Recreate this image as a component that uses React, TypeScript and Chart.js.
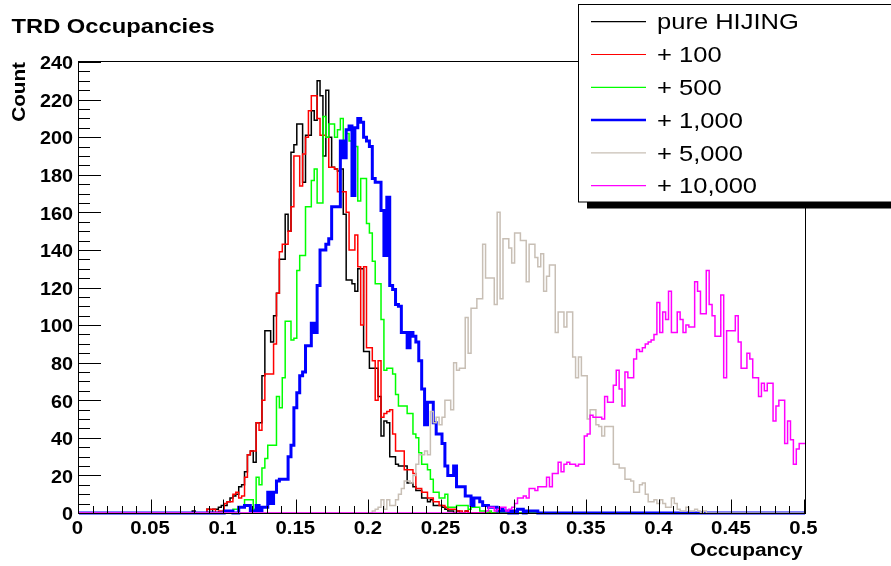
import React, { useEffect, useRef } from 'react';
import { Chart, registerables } from 'chart.js';

Chart.register(...registerables);

// ---------- axis / binning ----------
const N_BINS = 250;
const BIN_WIDTH = 0.002;
const X_MIN = 0;
const X_MAX = 0.5;
const Y_MIN = 0;
const Y_MAX = 240;
const X_TICK_VALUES = [0, 0.05, 0.1, 0.15, 0.2, 0.25, 0.3, 0.35, 0.4, 0.45, 0.5];
const X_TICK_LABELS = ['0', '0.05', '0.1', '0.15', '0.2', '0.25', '0.3', '0.35', '0.4', '0.45', '0.5'];
const Y_TICK_VALUES = [0, 20, 40, 60, 80, 100, 120, 140, 160, 180, 200, 220, 240];
const Y_TICK_LABELS = ['0', '20', '40', '60', '80', '100', '120', '140', '160', '180', '200', '220', '240'];

const TITLE = 'TRD Occupancies';
const X_TITLE = 'Occupancy';
const Y_TITLE = 'Count';

const SERIES_NAMES = ['pure HIJING', '+ 100', '+ 500', '+ 1,000', '+ 5,000', '+ 10,000'];
const SERIES_COLORS = ['#000000', '#ff0000', '#00ff00', '#0000ff', '#c8bfb5', '#ff00ff'];
const SERIES_WIDTHS = [1.5, 1.5, 1.5, 3, 1.5, 1.5];

// ---------- histogram counts (first non-empty bin + counts per 0.002 bin) ----------
const hijingStart = 39;
const hijingCounts = [
  1, 0, 0, 0, 0, 2, 0, 2, 2, 3, 4, 4, 6, 8, 9, 10, 14, 15, 22, 31,
  33, 27, 48, 48, 73, 97, 97, 91, 105, 117, 135, 135, 159, 150, 192, 196, 207, 207, 176, 201,
  201, 214, 209, 230, 222, 190, 225, 200, 184, 183, 182, 183, 159, 124, 124, 122, 118, 130, 130, 86,
  86, 77, 77, 77, 62, 41, 49, 48, 30, 30, 26, 25, 25, 25, 16, 16, 14, 12, 12, 8,
  8, 6, 7, 4, 4, 4, 3, 2, 1, 1, 0, 1, 0, 0, 1,
];

const plus100Start = 44;
const plus100Counts = [
  2, 2, 2, 0, 1, 1, 5, 6, 6, 10, 11, 8, 9, 19, 31, 33, 33, 48, 44, 60,
  74, 74, 74, 90, 117, 139, 143, 143, 150, 163, 190, 190, 174, 191, 200, 214, 222, 222, 210, 201,
  201, 200, 184, 184, 183, 171, 171, 171, 160, 140, 140, 148, 131, 100, 131, 88, 88, 81, 60, 81,
  51, 53, 54, 55, 42, 33, 33, 33, 23, 23, 23, 21, 13, 13, 11, 11, 8, 8, 6, 6,
  4, 4, 3, 2, 2, 2, 1, 1, 0, 1,
];

const plus500Start = 52;
const plus500Counts = [
  1, 2, 2, 3, 3, 7, 7, 7, 2, 19, 15, 24, 29, 36, 36, 36, 62, 56, 72, 102,
  102, 92, 93, 129, 137, 137, 163, 163, 177, 183, 165, 165, 211, 200, 207, 207, 200, 204, 210, 198,
  202, 198, 195, 195, 166, 178, 178, 154, 149, 134, 122, 122, 103, 76, 77, 77, 74, 63, 57, 57,
  57, 53, 53, 42, 40, 32, 26, 26, 23, 18, 11, 11, 8, 8, 10, 3, 3, 3, 4, 4,
  4, 4, 2, 3, 3, 3, 1, 1, 0, 1,
];

const plus1000Start = 50;
const plus1000Counts = [
  1, 1, 1, 0, 0, 3, 3, 4, 4, 1, 1, 4, 1, 3, 3, 11, 5, 11, 17, 18,
  18, 18, 30, 36, 56, 64, 73, 75, 89, 89, 101, 96, 121, 140, 140, 143, 146, 163, 163, 163,
  198, 189, 204, 206, 169, 205, 210, 208, 200, 198, 195, 178, 176, 176, 161, 137, 168, 121, 119, 111,
  110, 96, 96, 88, 96, 94, 91, 81, 66, 47, 59, 59, 48, 42, 42, 37, 25, 20, 20, 25,
  14, 14, 14, 9, 9, 4, 8, 8, 6, 4, 4, 3, 3, 3, 1, 2, 1, 1, 0, 1,
  0, 2, 2, 0, 1, 1, 1, 1,
];

const plus5000Start = 100;
const plus5000Counts = [
  0, 1, 2, 3, 7, 2, 7, 4, 4, 7, 10, 13, 17, 17, 16, 20, 26, 31, 31, 33,
  31, 54, 48, 51, 47, 51, 60, 60, 55, 80, 76, 77, 77, 104, 85, 109, 109, 114, 114, 143,
  125, 125, 125, 111, 160, 114, 146, 146, 141, 133, 149, 149, 145, 145, 123, 143, 143, 136, 131, 138,
  118, 126, 132, 132, 96, 107, 107, 99, 107, 107, 83, 72, 83, 73, 73, 50, 55, 55, 47, 46,
  41, 46, 46, 46, 26, 26, 24, 24, 18, 18, 17, 11, 11, 15, 16, 10, 6, 6, 7, 5,
  7, 5, 3, 3, 8, 5, 2, 1, 1, 3, 1, 1, 2, 1, 0, 1,
];

const plus10000Start = 140;
const plus10000Counts = [
  1, 3, 3, 1, 2, 3, 3, 1, 2, 3, 5, 8, 8, 9, 8, 13, 13, 12, 14, 14,
  14, 19, 14, 21, 21, 27, 22, 26, 27, 26, 26, 25, 26, 26, 41, 42, 52, 51, 51, 51,
  50, 62, 59, 59, 68, 76, 66, 57, 75, 72, 72, 82, 87, 86, 88, 90, 91, 92, 95, 112,
  96, 107, 103, 118, 96, 96, 107, 103, 96, 100, 99, 99, 123, 118, 106, 106, 129, 111, 105, 94,
  94, 116, 72, 97, 97, 97, 105, 91, 77, 77, 85, 82, 72, 72, 62, 69, 65, 69, 69, 49,
  57, 60, 60, 37, 49, 39, 26, 34, 37, 37,
];

const SERIES_STARTS = [hijingStart, plus100Start, plus500Start, plus1000Start, plus5000Start, plus10000Start];
const SERIES_COUNTS = [hijingCounts, plus100Counts, plus500Counts, plus1000Counts, plus5000Counts, plus10000Counts];

function fullHistogram(start: number, counts: number[]): number[] {
  const out = new Array(N_BINS).fill(0);
  counts.forEach((c, i) => {
    if (start + i < N_BINS) out[start + i] = c;
  });
  return out;
}

function stepPoints(bins: number[]) {
  const pts = bins.map((v, i) => ({ x: i * BIN_WIDTH, y: v }));
  pts.push({ x: N_BINS * BIN_WIDTH, y: bins[N_BINS - 1] });
  return pts;
}

const FAMILY = '"Liberation Sans", Arial, Helvetica, sans-serif';

function drawText(
  ctx: CanvasRenderingContext2D,
  text: string,
  x: number,
  y: number,
  font: string,
  align: CanvasTextAlign,
  sx: number,
  rot = 0
) {
  ctx.save();
  ctx.translate(x, y);
  if (rot) ctx.rotate(rot);
  ctx.scale(sx, 1);
  ctx.font = font;
  ctx.textAlign = align;
  ctx.textBaseline = 'alphabetic';
  ctx.fillStyle = '#000';
  ctx.fillText(text, 0, 0);
  ctx.restore();
}

const rootStylePlugin = {
  id: 'rootStyle',
  afterDraw(chart: any) {
    const ctx: CanvasRenderingContext2D = chart.ctx;
    const { left, right, top, bottom } = chart.chartArea;
    const xs = chart.scales.x;
    const ys = chart.scales.y;
    ctx.save();

    // frame
    ctx.strokeStyle = '#000';
    ctx.lineWidth = 1;
    ctx.strokeRect(Math.round(left) - 0.5, Math.round(top) - 0.5, Math.round(right - left) + 1, Math.round(bottom - top) + 1);

    // y ticks (inward)
    const yMajLen = 22;
    const yMinLen = 11;
    ctx.beginPath();
    for (let v = Y_MIN; v <= Y_MAX + 1e-9; v += 5) {
      const py = Math.round(ys.getPixelForValue(v)) + 0.5;
      const isMajor = Y_TICK_VALUES.includes(v);
      ctx.moveTo(left, py);
      ctx.lineTo(left + (isMajor ? yMajLen : yMinLen), py);
    }
    // x ticks (inward)
    const xMajLen = 13.5;
    const xMinLen = 7;
    for (let k = 0; k <= 50; k++) {
      const v = k * 0.01;
      const px = Math.round(xs.getPixelForValue(v)) - 0.5;
      const isMajor = k % 5 === 0;
      ctx.moveTo(px, bottom);
      ctx.lineTo(px, bottom - (isMajor ? xMajLen : xMinLen));
    }
    ctx.stroke();

    // tick labels
    const labFont = `bold 18px ${FAMILY}`;
    Y_TICK_VALUES.forEach((v, i) => {
      const py = ys.getPixelForValue(v);
      drawText(ctx, Y_TICK_LABELS[i], 73, py + 7.3, labFont, 'right', 1.1);
    });
    X_TICK_VALUES.forEach((v, i) => {
      const px = xs.getPixelForValue(v);
      drawText(ctx, X_TICK_LABELS[i], px - 1.5, 534, labFont, 'center', 1.13);
    });

    // titles
    drawText(ctx, TITLE, 11.5, 32.5, `bold 21px ${FAMILY}`, 'left', 1.13);
    drawText(ctx, X_TITLE, 802.5, 555.5, `bold 18px ${FAMILY}`, 'right', 1.16);
    drawText(ctx, Y_TITLE, 25, 62, `bold 18.5px ${FAMILY}`, 'right', 1.12, -Math.PI / 2);

    // legend with shadow
    const lx = 578.5;
    const ly = 4.5;
    const lh = 197.5;
    ctx.fillStyle = '#000';
    ctx.fillRect(587, 202, 400, 6.5);
    ctx.fillStyle = '#fff';
    ctx.fillRect(lx, ly, 400, lh);
    ctx.strokeStyle = '#000';
    ctx.lineWidth = 1;
    ctx.strokeRect(lx, ly, 400, lh);
    chart.data.datasets.forEach((ds: any, i: number) => {
      const rowY = 21.7 + i * 32.8;
      ctx.beginPath();
      ctx.strokeStyle = ds.borderColor;
      ctx.lineWidth = ds.borderWidth > 2 ? 2.5 : 1.2;
      ctx.moveTo(591, rowY);
      ctx.lineTo(646, rowY);
      ctx.stroke();
      drawText(ctx, ds.label, 657, rowY + 7.7, `22px ${FAMILY}`, 'left', 1.16);
    });

    ctx.restore();
  },
};

export default function App() {
  const canvasRef = useRef<HTMLCanvasElement | null>(null);

  useEffect(() => {
    const canvas = canvasRef.current;
    if (!canvas) return;
    const datasets = SERIES_NAMES.map((name, i) => ({
      label: name,
      data: stepPoints(fullHistogram(SERIES_STARTS[i], SERIES_COUNTS[i])),
      borderColor: SERIES_COLORS[i],
      backgroundColor: SERIES_COLORS[i],
      borderWidth: SERIES_WIDTHS[i],
      pointRadius: 0,
      pointHoverRadius: 0,
      stepped: 'before' as const,
      fill: false,
      tension: 0,
      clip: 8,
      order: SERIES_NAMES.length - 1 - i,
    }));

    const chart = new Chart(canvas, {
      type: 'line',
      data: { datasets },
      options: {
        responsive: false,
        animation: false,
        devicePixelRatio: 1,
        parsing: false as any,
        layout: { padding: { left: 0, right: 86, top: 62, bottom: 0 } },
        plugins: {
          legend: { display: false },
          tooltip: { enabled: false },
          title: { display: false },
        },
        events: [],
        scales: {
          x: {
            type: 'linear',
            min: X_MIN,
            max: X_MAX,
            grid: { display: false, drawTicks: false },
            border: { display: false },
            ticks: { display: false },
            afterFit: (s: any) => {
              s.height = 53;
            },
          },
          y: {
            type: 'linear',
            min: Y_MIN,
            max: Y_MAX,
            grid: { display: false, drawTicks: false },
            border: { display: false },
            ticks: { display: false },
            afterFit: (s: any) => {
              s.width = 79;
            },
          },
        },
      },
      plugins: [rootStylePlugin],
    });
    return () => chart.destroy();
  }, []);

  return (
    <div style={{ position: 'absolute', left: 0, top: 0, width: 891, height: 566, background: '#fff' }}>
      <canvas ref={canvasRef} width={891} height={566} style={{ display: 'block', width: 891, height: 566 }} />
    </div>
  );
}
